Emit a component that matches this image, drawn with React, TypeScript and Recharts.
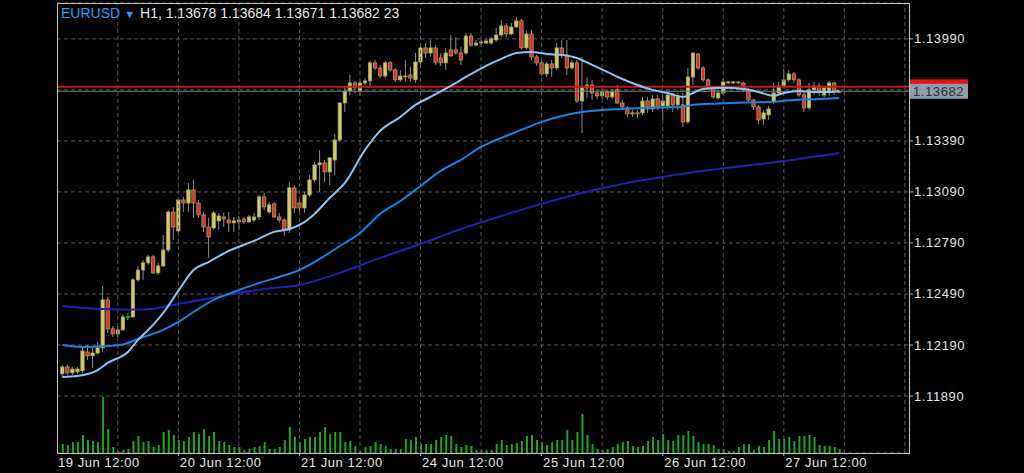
import React from "react";
import {
  ComposedChart,
  Bar,
  Line,
  XAxis,
  YAxis,
  CartesianGrid,
  ReferenceLine,
} from "recharts";

// EURUSD H1 candles (index 0 = first visible bar)
const opens = [
  1.1202, 1.12061, 1.12026, 1.12032, 1.12038, 1.12149, 1.12126, 1.12143, 1.12173, 1.12455,
  1.12285, 1.12255, 1.12279, 1.12355, 1.12355, 1.12573, 1.12631, 1.12673, 1.12708, 1.12614,
  1.12655, 1.12749, 1.12972, 1.12861, 1.13043, 1.13025, 1.13102, 1.13025, 1.12955, 1.12884,
  1.12878, 1.1292, 1.12943, 1.12925, 1.12908, 1.12914, 1.12931, 1.12914, 1.12925, 1.12943,
  1.13061, 1.12972, 1.1302, 1.12943, 1.12925, 1.12867, 1.13114, 1.13025, 1.12996, 1.13072,
  1.13161, 1.13249, 1.13261, 1.13208, 1.13278, 1.13396, 1.13613, 1.13684, 1.13731, 1.13684,
  1.13731, 1.13743, 1.13849, 1.13819, 1.13772, 1.13849, 1.13807, 1.13749, 1.13766, 1.13778,
  1.13749, 1.13854, 1.13937, 1.13907, 1.13937, 1.13878, 1.13849, 1.13925, 1.13925, 1.13907,
  1.13907, 1.14007, 1.13954, 1.13966, 1.13966, 1.13966, 1.13984, 1.14013, 1.14066, 1.14019,
  1.1406, 1.14096, 1.13937, 1.14019, 1.13884, 1.13849, 1.13784, 1.13843, 1.13819, 1.13937,
  1.13896, 1.13819, 1.13849, 1.13625, 1.13702, 1.13719, 1.13672, 1.13655, 1.13678, 1.13649,
  1.1369, 1.13613, 1.13584, 1.13549, 1.13555, 1.13555, 1.13625, 1.13578, 1.13637, 1.13596,
  1.13596, 1.1366, 1.13602, 1.13602, 1.13502, 1.13766, 1.13901, 1.13819, 1.13749, 1.13702,
  1.13643, 1.13672, 1.13731, 1.13731, 1.13737, 1.13731, 1.1369, 1.13631, 1.1359, 1.13519,
  1.13543, 1.13619, 1.13672, 1.13713, 1.13749, 1.13784, 1.13749, 1.1366, 1.13584, 1.1369,
  1.13713, 1.1366, 1.13678, 1.13731, 1.13678,
];

const highs = [
  1.12073, 1.12073, 1.12061, 1.12061, 1.12173, 1.1219, 1.12173, 1.12208, 1.12537, 1.12473,
  1.12302, 1.12302, 1.12367, 1.12379, 1.12584, 1.12655, 1.1269, 1.1272, 1.1272, 1.12673,
  1.12837, 1.12984, 1.13002, 1.13055, 1.13061, 1.13143, 1.13161, 1.13043, 1.12972, 1.12937,
  1.12978, 1.12967, 1.12967, 1.12972, 1.12943, 1.12949, 1.12943, 1.12955, 1.12967, 1.13072,
  1.13084, 1.13031, 1.13031, 1.12967, 1.12937, 1.13149, 1.13131, 1.13061, 1.1309, 1.1319,
  1.13266, 1.13337, 1.13278, 1.13296, 1.13431, 1.13619, 1.13702, 1.13778, 1.13743, 1.13743,
  1.1376, 1.1386, 1.13866, 1.13837, 1.1386, 1.1386, 1.13819, 1.13807, 1.13866, 1.13825,
  1.13907, 1.13966, 1.13966, 1.13984, 1.13954, 1.13907, 1.13937, 1.14013, 1.14001, 1.13943,
  1.14025, 1.14025, 1.13984, 1.13984, 1.1399, 1.14001, 1.14054, 1.14101, 1.14084, 1.14084,
  1.14119, 1.14107, 1.14037, 1.14043, 1.13896, 1.13872, 1.13854, 1.13866, 1.13966, 1.13984,
  1.13984, 1.13866, 1.13866, 1.13884, 1.13766, 1.13749, 1.1369, 1.13696, 1.1369, 1.13696,
  1.13719, 1.13631, 1.13596, 1.13572, 1.13572, 1.13649, 1.13649, 1.1366, 1.1366, 1.1366,
  1.13678, 1.13672, 1.13672, 1.13672, 1.13819, 1.13913, 1.13907, 1.13831, 1.1376, 1.13713,
  1.1369, 1.1376, 1.13743, 1.13743, 1.13743, 1.13737, 1.13702, 1.13637, 1.13602, 1.13572,
  1.13596, 1.13731, 1.13737, 1.13813, 1.13807, 1.13796, 1.1376, 1.13678, 1.13731, 1.13737,
  1.13731, 1.13713, 1.13743, 1.13737, 1.13684,
];

const lows = [
  1.12002, 1.12014, 1.12014, 1.1202, 1.12026, 1.12102, 1.12055, 1.12132, 1.12149, 1.12261,
  1.12237, 1.12237, 1.12273, 1.12337, 1.12349, 1.12561, 1.12573, 1.12661, 1.12608, 1.12602,
  1.12649, 1.12737, 1.12808, 1.12849, 1.12972, 1.12972, 1.12937, 1.12937, 1.12855, 1.12702,
  1.12867, 1.12867, 1.12884, 1.12855, 1.12855, 1.12867, 1.12902, 1.12908, 1.12914, 1.12925,
  1.12984, 1.12961, 1.12937, 1.12908, 1.12831, 1.12849, 1.12967, 1.12972, 1.12967, 1.13061,
  1.13149, 1.1309, 1.13149, 1.13131, 1.1319, 1.13384, 1.1356, 1.1366, 1.13672, 1.1366,
  1.13719, 1.13707, 1.13807, 1.1376, 1.1376, 1.13796, 1.13737, 1.13737, 1.13737, 1.13737,
  1.13731, 1.13837, 1.13878, 1.13884, 1.13837, 1.13831, 1.13807, 1.13884, 1.13896, 1.13837,
  1.13896, 1.13943, 1.13943, 1.13954, 1.1396, 1.13954, 1.13972, 1.14001, 1.14001, 1.14013,
  1.14054, 1.13925, 1.13925, 1.13866, 1.13831, 1.13772, 1.13766, 1.13766, 1.13807, 1.13878,
  1.13778, 1.13807, 1.13613, 1.13437, 1.13643, 1.13631, 1.13637, 1.13637, 1.13631, 1.13637,
  1.13608, 1.13572, 1.13531, 1.13531, 1.13525, 1.13543, 1.13555, 1.1356, 1.13572, 1.13513,
  1.13572, 1.1356, 1.13572, 1.13472, 1.1349, 1.13719, 1.13807, 1.13737, 1.1369, 1.13637,
  1.13631, 1.1366, 1.13725, 1.13725, 1.13725, 1.13678, 1.13619, 1.13572, 1.1349, 1.13484,
  1.13513, 1.13608, 1.1366, 1.13702, 1.13737, 1.13731, 1.13649, 1.1356, 1.13572, 1.1366,
  1.13655, 1.13649, 1.13655, 1.1366, 1.13671,
];

const closes = [
  1.12061, 1.12026, 1.12049, 1.12049, 1.12155, 1.12126, 1.12143, 1.12173, 1.12455, 1.12285,
  1.12255, 1.12279, 1.12355, 1.12355, 1.12573, 1.12631, 1.12673, 1.12708, 1.12614, 1.12655,
  1.12749, 1.12972, 1.12884, 1.13043, 1.13025, 1.13102, 1.13025, 1.12955, 1.12884, 1.12825,
  1.12967, 1.12949, 1.12931, 1.12908, 1.1292, 1.12925, 1.12914, 1.12943, 1.12943, 1.13061,
  1.13002, 1.13014, 1.12943, 1.12925, 1.12867, 1.13114, 1.12996, 1.12996, 1.13072, 1.13161,
  1.13249, 1.13261, 1.13208, 1.1329, 1.13396, 1.13613, 1.13684, 1.13731, 1.13702, 1.13731,
  1.13743, 1.13849, 1.13819, 1.13772, 1.13849, 1.13807, 1.13749, 1.13772, 1.13772, 1.1376,
  1.13854, 1.13937, 1.13907, 1.13937, 1.13854, 1.13849, 1.13907, 1.1389, 1.13907, 1.13866,
  1.14007, 1.13954, 1.13966, 1.13972, 1.13978, 1.1399, 1.14013, 1.14066, 1.14019, 1.1406,
  1.14096, 1.13937, 1.14019, 1.13884, 1.13849, 1.13784, 1.13843, 1.13819, 1.13937, 1.13896,
  1.13819, 1.13849, 1.13625, 1.13702, 1.13719, 1.13672, 1.13655, 1.13678, 1.13649, 1.13678,
  1.13613, 1.1359, 1.13549, 1.13555, 1.13549, 1.13625, 1.13578, 1.13637, 1.13584, 1.13625,
  1.1366, 1.13602, 1.13649, 1.13502, 1.13766, 1.13907, 1.13819, 1.13749, 1.13702, 1.13649,
  1.13672, 1.13737, 1.13737, 1.13737, 1.13731, 1.1369, 1.13631, 1.1359, 1.13513, 1.13555,
  1.13578, 1.13672, 1.13713, 1.13749, 1.13784, 1.13749, 1.1366, 1.13584, 1.1369, 1.13713,
  1.13684, 1.13702, 1.13731, 1.13678, 1.13682,
];

// tick volume
const volumes = [
  54, 48, 66, 66, 108, 78, 72, 66, 336, 144,
  36, 12, 18, 24, 72, 102, 66, 72, 36, 48,
  126, 138, 108, 78, 72, 96, 126, 114, 144, 102,
  126, 72, 66, 48, 36, 36, 18, 24, 36, 42,
  66, 24, 24, 36, 78, 156, 96, 66, 84, 96,
  96, 126, 156, 114, 126, 126, 66, 72, 42, 12,
  36, 42, 66, 54, 42, 24, 24, 24, 84, 78,
  96, 54, 54, 54, 78, 96, 108, 102, 54, 36,
  48, 42, 18, 18, 18, 18, 54, 78, 48, 54,
  60, 72, 102, 108, 78, 66, 48, 66, 78, 78,
  138, 78, 126, 234, 108, 54, 24, 18, 24, 36,
  54, 66, 72, 42, 36, 42, 72, 96, 78, 114,
  78, 72, 108, 108, 132, 102, 66, 54, 54, 48,
  24, 24, 12, 12, 36, 54, 54, 18, 42, 36,
  78, 132, 84, 84, 96, 72, 102, 102, 108, 96,
  48, 42, 42, 36, 23,
];

// moving averages, read at sampled bars
const fastIdx = [
  0, 3, 7, 9, 13, 15, 18, 20, 23, 26, 29, 33, 38, 42, 45, 47, 50, 53, 56, 60,
  63, 67, 70, 73, 77, 80, 84, 87, 90, 93, 96, 99, 102, 105, 108, 111, 114, 117, 120, 123,
  125, 127, 131, 135, 138, 141, 143, 146, 149, 152, 154,
];
const fastMa = [
  1.12002, 1.12008, 1.12043, 1.12085, 1.12149, 1.1222, 1.12308, 1.12379, 1.12508, 1.12631,
  1.12678, 1.12743, 1.12802, 1.12855, 1.12872, 1.12896, 1.12961, 1.13055, 1.13143, 1.13337,
  1.13449, 1.13531, 1.13602, 1.13649, 1.13713, 1.13766, 1.13831, 1.13872, 1.13907, 1.13913,
  1.13901, 1.13896, 1.13878, 1.13837, 1.13796, 1.13754, 1.13719, 1.1369, 1.13672, 1.13649,
  1.13672, 1.13696, 1.13702, 1.13696, 1.13678, 1.13655, 1.13672, 1.13684, 1.13678, 1.13678,
  1.13684,
];

const midIdx = [
  0, 4, 8, 12, 15, 20, 23, 26, 30, 34, 39, 43, 47, 51, 55, 59, 63, 67, 71, 75,
  79, 83, 87, 91, 95, 99, 103, 107, 111, 115, 119, 123, 125, 130, 135, 140, 145, 150, 154,
];
const midMa = [
  1.1219, 1.12179, 1.12182, 1.12193, 1.12226, 1.12279, 1.12326, 1.12384, 1.12455, 1.12502,
  1.12555, 1.1259, 1.12631, 1.12696, 1.12772, 1.12849, 1.12961, 1.13037, 1.13125, 1.13214,
  1.13278, 1.13355, 1.13408, 1.13455, 1.13502, 1.13537, 1.1356, 1.13572, 1.13578, 1.13584,
  1.13587, 1.1359, 1.13602, 1.1361, 1.13616, 1.13619, 1.13631, 1.13637, 1.13643,
];

const slowIdx = [0, 8, 16, 24, 32, 40, 47, 55, 63, 71, 79, 87, 95, 103, 111, 119, 127, 135, 143, 150, 154];
const slowMa = [
  1.1242, 1.12402, 1.12399, 1.12437, 1.12479, 1.1252, 1.12543, 1.12614, 1.12702, 1.12784,
  1.12872, 1.12949, 1.1302, 1.13084, 1.13137, 1.13178, 1.13214, 1.13243, 1.13272, 1.13302,
  1.13319,
];

const priceTicks = [1.1189, 1.1219, 1.1249, 1.1279, 1.1309, 1.1339, 1.1369, 1.1399];
const timeLabels: Record<number, string> = {
  0: "19 Jun 12:00",
  23: "20 Jun 12:00",
  47: "21 Jun 12:00",
  71: "24 Jun 12:00",
  95: "25 Jun 12:00",
  119: "26 Jun 12:00",
  143: "27 Jun 12:00",
};
const gridIdx = [11, 23, 35, 47, 59, 71, 83, 95, 107, 119, 131, 143, 155, 167];

const SLOTS = 168; // bars plus empty space on the right
const ASK = 1.13708;
const BID = 1.13682;
const Y_MIN = 1.11555;
const Y_MAX = 1.14201;
const PLOT_BOTTOM = 453;
const PLOT_RIGHT = 909;
const FONT = "'Liberation Sans', Arial, Helvetica, sans-serif";

const rows: any[] = Array.from({ length: SLOTS }, (_, i) => {
  const has = i < closes.length;
  return {
    i,
    o: has ? opens[i] : undefined,
    h: has ? highs[i] : undefined,
    l: has ? lows[i] : undefined,
    c: has ? closes[i] : undefined,
    hl: has ? [lows[i], highs[i]] : undefined,
    vol: has ? volumes[i] : undefined,
  };
});
fastIdx.forEach((k, j) => (rows[k].fast = fastMa[j]));
midIdx.forEach((k, j) => (rows[k].mid = midMa[j]));
slowIdx.forEach((k, j) => (rows[k].slow = slowMa[j]));

function Candle(props: any) {
  const { x, y, width, height, payload } = props;
  if (!payload || payload.o == null || height == null) return null;
  const { o, h, l, c } = payload;
  const top = Math.min(y, y + height);
  const bottom = Math.max(y, y + height);
  const k = h > l ? (bottom - top) / (h - l) : 0;
  const cx = x + width / 2;
  const bTop = top + (h - Math.max(o, c)) * k;
  const bBot = top + (h - Math.min(o, c)) * k;
  if (o === c) {
    return (
      <g>
        <line x1={cx} x2={cx} y1={top} y2={bottom} stroke="#2fb52f" strokeWidth={1} />
        <line x1={cx - 2} x2={cx + 2} y1={bTop} y2={bTop} stroke="#2fb52f" strokeWidth={1.5} />
      </g>
    );
  }
  const up = c > o;
  return (
    <g>
      <line x1={cx} x2={cx} y1={top} y2={bottom} stroke="#8e8e8e" strokeWidth={1} />
      <rect
        x={cx - 1.7}
        y={bTop}
        width={3.4}
        height={Math.max(bBot - bTop, 1)}
        fill={up ? "#d2c96c" : "#d8332f"}
        stroke={up ? "#a9a35a" : "#b3ab5f"}
        strokeWidth={0.7}
      />
    </g>
  );
}

// axis ticks are placed against the plot edges
function PriceTick(props: any) {
  const { y, payload } = props;
  const v = payload.value;
  const hidden = Math.abs(v - 1.1369) < 1e-7;
  return (
    <g>
      <line x1={PLOT_RIGHT} x2={PLOT_RIGHT + 4} y1={y} y2={y} stroke="#bdbdbd" strokeWidth={1} />
      {!hidden && (
        <text
          x={PLOT_RIGHT + 5}
          y={y}
          dy={4.5}
          fill="#e6e6e6"
          fontSize={13}
          letterSpacing={0.6}
          fontFamily={FONT}
        >
          {v.toFixed(5)}
        </text>
      )}
    </g>
  );
}

function TimeTick(props: any) {
  const { x, payload } = props;
  const label = timeLabels[payload.value];
  if (!label) return null;
  const first = payload.value === 0;
  const tx = first ? x - 4.3 : x + 1.5;
  return (
    <g>
      {!first && (
        <line x1={x} x2={x} y1={PLOT_BOTTOM} y2={PLOT_BOTTOM + 3} stroke="#bdbdbd" strokeWidth={1} />
      )}
      <text
        x={tx}
        y={PLOT_BOTTOM + 14}
        fill="#e6e6e6"
        fontSize={13}
        letterSpacing={0.55}
        fontFamily={FONT}
      >
        {label}
      </text>
    </g>
  );
}

function PriceTag(props: any) {
  const { viewBox, fill, text } = props;
  if (!viewBox) return null;
  const left = viewBox.x + viewBox.width + 1;
  const cy = viewBox.y;
  return (
    <g>
      <rect x={left} y={cy - 7.5} width={58} height={15} fill={fill} />
      {text && (
        <text
          x={left + 3}
          y={cy + 5}
          fill="#2c2f36"
          fontSize={13}
          letterSpacing={0.6}
          fontFamily={FONT}
        >
          {text}
        </text>
      )}
    </g>
  );
}

export default function App() {
  return (
    <div
      style={{
        position: "fixed",
        left: 0,
        top: 0,
        width: 1024,
        height: 473,
        background: "#000",
        overflow: "hidden",
        fontFamily: FONT,
      }}
    >
      <ComposedChart
        width={1024}
        height={473}
        data={rows}
        margin={{ top: 3, right: 0, bottom: 0, left: 57 }}
      >
        <XAxis
          xAxisId="x"
          dataKey="i"
          type="category"
          ticks={[0, 23, 47, 71, 95, 119, 143]}
          interval={0}
          padding={{ left: 2.8, right: 1.6 }}
          height={20}
          axisLine={false}
          tickLine={false}
          tick={<TimeTick />}
        />
        <XAxis
          xAxisId="v"
          dataKey="i"
          type="category"
          hide
          padding={{ left: 2.8, right: 1.6 }}
        />
        <YAxis
          yAxisId="p"
          orientation="right"
          type="number"
          domain={[Y_MIN, Y_MAX]}
          allowDataOverflow
          ticks={priceTicks}
          interval={0}
          width={115}
          axisLine={false}
          tickLine={false}
          tick={<PriceTick />}
        />
        <YAxis yAxisId="v" type="number" hide domain={[0, 2700]} allowDataOverflow />
        <CartesianGrid
          xAxisId="x"
          yAxisId="p"
          vertical={false}
          stroke="#5a5a5a"
          strokeDasharray="4 3"
        />
        {gridIdx.map((k) => (
          <ReferenceLine
            key={k}
            xAxisId="x"
            yAxisId="p"
            x={k}
            stroke="#5a5a5a"
            strokeDasharray="4 3"
          />
        ))}
        <Bar
          xAxisId="v"
          yAxisId="v"
          dataKey="vol"
          barSize={2}
          fill="#22a322"
          isAnimationActive={false}
        />
        <ReferenceLine
          xAxisId="x"
          yAxisId="p"
          y={ASK}
          stroke="#c41a1a"
          strokeWidth={2}
          label={<PriceTag fill="#e51414" />}
        />
        <ReferenceLine
          xAxisId="x"
          yAxisId="p"
          y={BID}
          stroke="#808080"
          strokeWidth={1}
          label={<PriceTag fill="#8e9cae" text={BID.toFixed(5)} />}
        />
        <Bar
          xAxisId="x"
          yAxisId="p"
          dataKey="hl"
          barSize={5}
          shape={<Candle />}
          isAnimationActive={false}
        />
        <Line
          xAxisId="x"
          yAxisId="p"
          dataKey="slow"
          type="monotone"
          stroke="#2323b2"
          strokeWidth={2}
          dot={false}
          connectNulls
          isAnimationActive={false}
        />
        <Line
          xAxisId="x"
          yAxisId="p"
          dataKey="mid"
          type="monotone"
          stroke="#1f82e2"
          strokeWidth={2}
          dot={false}
          connectNulls
          isAnimationActive={false}
        />
        <Line
          xAxisId="x"
          yAxisId="p"
          dataKey="fast"
          type="monotone"
          stroke="#8cc6f6"
          strokeWidth={2}
          dot={false}
          connectNulls
          isAnimationActive={false}
        />
      </ComposedChart>
      <div
        style={{
          position: "absolute",
          left: 56.5,
          top: 2.5,
          width: 853,
          height: 451,
          border: "1.5px solid #c6c6c6",
          boxSizing: "border-box",
          pointerEvents: "none",
        }}
      />
      <div
        style={{
          position: "absolute",
          left: 61,
          top: 5,
          fontSize: 14,
          lineHeight: "16px",
          whiteSpace: "nowrap",
          color: "#e8e8e8",
        }}
      >
        <span style={{ color: "#2e9ff2" }}>EURUSD</span>
        <span style={{ color: "#2e9ff2", fontSize: 11, margin: "0 5px 0 4px" }}>▼</span>
        <span>H1, 1.13678 1.13684 1.13671 1.13682 23</span>
      </div>
    </div>
  );
}
